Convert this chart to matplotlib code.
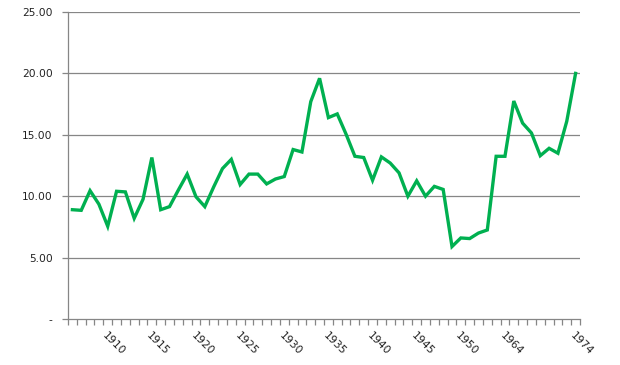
import numpy as np
import matplotlib
matplotlib.use("Agg")
import matplotlib.pyplot as plt

# values, one per category (58 categories)
values = [8.9, 8.85, 10.45, 9.35, 7.55, 10.4, 10.35, 8.2, 9.75, 13.15,
          8.9, 9.15, 10.5, 11.8, 9.95, 9.15, 10.75, 12.25, 13.0, 10.95,
          11.8, 11.8, 11.0, 11.4, 11.6, 13.8, 13.6, 17.7, 19.6, 16.4,
          16.7, 15.05, 13.25, 13.15, 11.3, 13.2, 12.7, 11.9, 10.0, 11.25,
          10.0, 10.8, 10.55, 5.9, 6.6, 6.55, 7.0, 7.25, 13.25, 13.25,
          17.75, 15.95, 15.15, 13.3, 13.9, 13.5, 16.1, 20.0]
label_pos = [4, 9, 14, 19, 24, 29, 34, 39, 44, 49, 57]
label_txt = ["1910", "1915", "1920", "1925", "1930", "1935", "1940",
             "1945", "1950", "1964", "1974"]
y_ticks = [0, 5, 10, 15, 20, 25]
y_labels = ["-", "5.00", "10.00", "15.00", "20.00", "25.00"]

grey = "#868686"
plt.rcParams['font.family'] = ['DejaVu Sans']

fig = plt.figure(figsize=(6.2, 3.65), dpi=100)
ax = fig.add_axes([68 / 620, (365 - 319) / 365, (580 - 68) / 620, (319 - 12) / 365])

x = np.arange(len(values))
ax.plot(x, values, color="#00B050", lw=2.4, solid_joinstyle="miter")

ax.set_xlim(-0.5, len(values) - 0.5)
ax.set_ylim(0, 25)

# gridlines
for v in y_ticks[1:]:
    ax.axhline(v, color=grey, lw=0.9, zorder=0)

ax.set_yticks(y_ticks, y_labels)
ax.tick_params(axis="y", length=4, width=0.9, color=grey, pad=7,
               labelsize=7.7, labelcolor="#222222")

# ticks between categories, labels underneath on chosen categories
ax.set_xticks(np.arange(len(values) + 1) - 0.5)
ax.set_xticklabels([])
ax.tick_params(axis="x", which="major", length=4, width=0.9, color=grey)
ax.set_xticks(label_pos, label_txt, minor=True)
ax.tick_params(axis="x", which="minor", length=0, pad=8, labelsize=7.8,
               labelcolor="#222222")
for lab in ax.get_xticklabels(minor=True):
    lab.set_rotation(-45)
    lab.set_ha("left")
    lab.set_va("top")
    lab.set_rotation_mode("anchor")

for s in ["top", "right"]:
    ax.spines[s].set_visible(False)
for s in ["left", "bottom"]:
    ax.spines[s].set_color(grey)
    ax.spines[s].set_linewidth(0.9)

fig.savefig("out.png", dpi=100)
